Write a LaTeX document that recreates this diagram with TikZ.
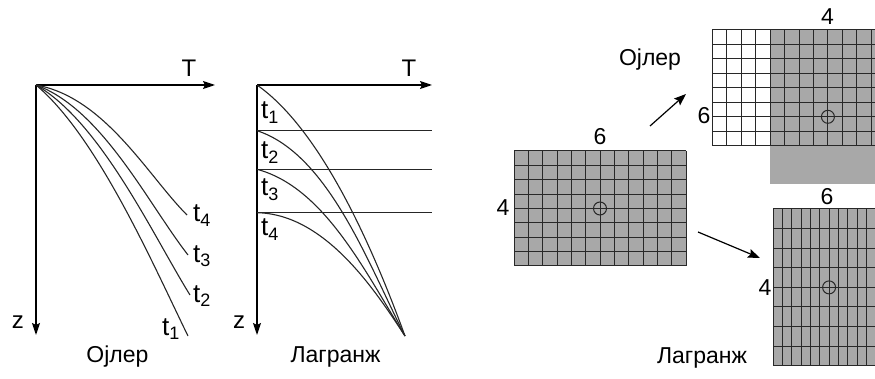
\documentclass[tikz,border=0pt]{standalone}
\usepackage{fontspec}
\setmainfont{Liberation Sans}
\usetikzlibrary{arrows.meta}
\definecolor{cellgray}{RGB}{168,168,168}
\definecolor{linegray}{RGB}{40,40,40}
\newcommand\tlab[1]{t\raisebox{-0.35ex}{\fontsize{18}{18}\selectfont #1}}
\begin{document}
\begin{tikzpicture}[x=1pt,y=-1pt,
 axis/.style={line width=1.3pt, -{Stealth[length=12pt,width=8pt,inset=2pt]}},
 curve/.style={line width=1.1pt, draw=black!85},
 gridline/.style={line width=1pt, draw=linegray},
 cellfill/.style={fill=cellgray},
 lbl/.style={font=\fontsize{24}{24}\selectfont, inner sep=0pt},
 title/.style={font=\fontsize{23}{23}\selectfont, inner sep=0pt, anchor=base},
 num/.style={font=\fontsize{23}{23}\selectfont, inner sep=0pt, anchor=base},
 tl/.style={font=\fontsize{26}{26}\selectfont, inner sep=0pt, anchor=base west},
 pointer/.style={line width=1.2pt, -{Stealth[length=12pt,width=9pt,inset=2pt]}}
]
\useasboundingbox (0,0) rectangle (875,379);
\clip (0,0) rectangle (875,379);

% ---------- Euler profiles ----------
\coordinate (oE) at (36,85);
\coordinate (TE) at (215,85);
\coordinate (zE) at (36,335);
\draw[axis] (oE) -- (TE);
\draw[axis] (oE) -- (zE);
\node[lbl, anchor=base] (lTE) at (189,77) {T};
\node[lbl, anchor=base] (lzE) at (18,328) {z};
\coordinate (e1) at (188,336);
\coordinate (e2) at (190,295);
\coordinate (e3) at (188,255);
\coordinate (e4) at (187,215);
\draw[curve] (oE) .. controls (97.3,136.4) and (152.9,264.1) .. (e1);
\draw[curve] (oE) .. controls (101,122.5) and (153,235.4) .. (e2);
\draw[curve] (oE) .. controls (102,109) and (148,203.6) .. (e3);
\draw[curve] (oE) .. controls (104.9,97.2) and (148.1,176.1) .. (e4);
\node[tl] (t4E) at (193,222) {\tlab{4}};
\node[tl] (t3E) at (193,262) {\tlab{3}};
\node[tl] (t2E) at (193,302) {\tlab{2}};
\node[tl] (t1E) at (162,335) {\tlab{1}};
\node[title] (capE) at (117.5,362) {Ојлер};

% ---------- Lagrange profiles ----------
\coordinate (oL) at (257,85);
\coordinate (TL) at (432,85);
\coordinate (zL) at (257,335);
\coordinate (h1) at (257,130.7);
\coordinate (h2) at (257,169.3);
\coordinate (h3) at (257,212.7);
\coordinate (h1e) at (432,130.7);
\coordinate (h2e) at (432,169.3);
\coordinate (h3e) at (432,212.7);
\coordinate (pL) at (405,336);
\draw[axis] (oL) -- (TL);
\draw[axis] (oL) -- (zL);
\draw[curve] (h1) -- (h1e);
\draw[curve] (h2) -- (h2e);
\draw[curve] (h3) -- (h3e);
\node[lbl, anchor=base] (lTL) at (409,77) {T};
\node[lbl, anchor=base] (lzL) at (239,328) {z};
\draw[curve] (oL) .. controls (322.5,130.9) and (374.2,251.4) .. (pL);
\draw[curve] (h1) .. controls (328.3,153.9) and (368.7,264.7) .. (pL);
\draw[curve] (h2) .. controls (324.6,187.4) and (365.3,272.4) .. (pL);
\draw[curve] (h3) .. controls (325,214) and (375,290) .. (pL);
\node[tl] (t1L) at (261,119) {\tlab{1}};
\node[tl] (t2L) at (261,159) {\tlab{2}};
\node[tl] (t3L) at (261,196) {\tlab{3}};
\node[tl] (t4L) at (261,236) {\tlab{4}};
\node[title] (capL) at (335.5,362) {Лагранж};

% ---------- central grid ----------
\fill[cellfill] (514,151) rectangle (686,266);
\foreach \i in {0,...,12} \draw[gridline] ({514+\i*14.333},151) -- ({514+\i*14.333},266);
\foreach \j in {0,...,8} \draw[gridline] (514,{151+\j*14.375}) -- (686,{151+\j*14.375});
\draw[gridline] (600,208.5) circle[radius=6.5];
\node[num] (n6c) at (600,145) {6};
\node[num] (n4c) at (503,216) {4};

% ---------- Euler grid (top right) ----------
\fill[cellfill] (770.1,30) rectangle (880,184);
\foreach \i in {0,...,11} \draw[gridline] ({712.3+\i*14.45},30) -- ({712.3+\i*14.45},145.7);
\foreach \j in {0,...,8} \draw[gridline] (712.3,{30+\j*14.4625}) -- (880,{30+\j*14.4625});
\draw[gridline] (827.9,116.8) circle[radius=6.5];
\node[num] (n4e) at (827.5,25) {4};
\node[num] (n6e) at (704,124) {6};
\node[title] (capRE) at (650,66) {Ојлер};

% ---------- Lagrange grid (bottom right) ----------
\fill[cellfill] (773.3,209) rectangle (880,365.7);
\foreach \i in {0,...,11} \draw[gridline] ({773.3+\i*9.3},209) -- ({773.3+\i*9.3},365.7);
\foreach \j in {0,...,8} \draw[gridline] (773.3,{209+\j*19.5875}) -- (880,{209+\j*19.5875});
\draw[gridline] (829.1,287.4) circle[radius=6.5];
\node[num] (n6l) at (827,205) {6};
\node[num] (n4l) at (765,295) {4};
\node[title] (capRL) at (702,363) {Лагранж};

% ---------- pointers ----------
\coordinate (a1s) at (650,126);
\coordinate (a1e) at (686,94);
\coordinate (a2s) at (698,232);
\coordinate (a2e) at (760,258);
\draw[pointer] (a1s) -- (a1e);
\draw[pointer] (a2s) -- (a2e);
\end{tikzpicture}
\end{document}
